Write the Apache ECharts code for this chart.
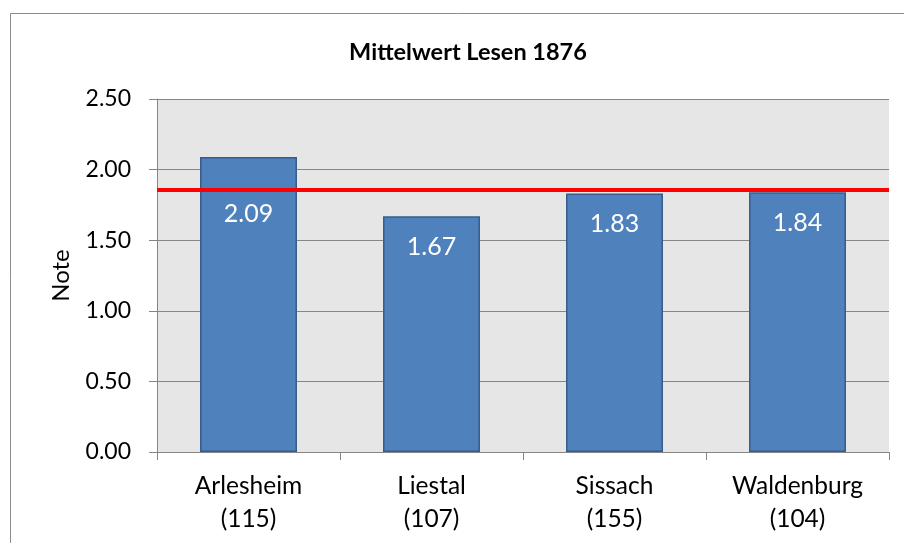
<!DOCTYPE html>
<html>
<head>
<meta charset="utf-8">
<script src="https://cdn.jsdelivr.net/npm/echarts@6/dist/echarts.min.js"></script>
<style>html,body{margin:0;padding:0;background:#fff;}#c{width:904px;height:543px;}</style>
</head>
<body>
<div id="c"></div>
<script>
const categories = ['Arlesheim\n(115)', 'Liestal\n(107)', 'Sissach\n(155)', 'Waldenburg\n(104)'];
const values = [2.09, 1.67, 1.83, 1.84];
const meanLine = [1.86];
const yTicks = [0, 0.5, 1.0, 1.5, 2.0, 2.5];

const FONT = 'Lato, "Open Sans", sans-serif';
const chart = echarts.init(document.getElementById('c'), null, {renderer: 'canvas'});
const barData = values.map((v, i) => i === 0
  ? {value: v, label: {offset: [0, 27]}}
  : {value: v});

chart.setOption({
  animation: false,
  backgroundColor: '#fff',
  graphic: [{
    type: 'rect', z: -10,
    shape: {x: 10.5, y: 13.5, width: 1000, height: 1000},
    style: {fill: 'none', stroke: '#8c8c8c', lineWidth: 1}
  }],
  title: {
    text: 'Mittelwert Lesen 1876',
    left: 463, top: 35, textAlign: 'center',
    textStyle: {fontFamily: FONT, fontWeight: 'bold', fontSize: 23.5, color: '#000'}
  },
  grid: {left: 157, right: 15, top: 99, bottom: 91, show: true, backgroundColor: '#e6e6e6', borderWidth: 0},
  xAxis: {
    type: 'category', data: categories,
    axisLine: {lineStyle: {color: '#868686', width: 1}},
    axisTick: {show: true, length: 8, lineStyle: {color: '#868686'}},
    axisLabel: {fontFamily: FONT, fontSize: 24.5, color: '#000', lineHeight: 33, margin: 18}
  },
  yAxis: {
    type: 'value', min: yTicks[0], max: yTicks[yTicks.length - 1], interval: 0.5,
    name: 'Note', nameLocation: 'middle', nameGap: 84, nameRotate: 90,
    nameTextStyle: {fontFamily: FONT, fontSize: 24, color: '#000'},
    axisLine: {show: true, lineStyle: {color: '#868686'}},
    axisTick: {show: true, length: 8, lineStyle: {color: '#868686'}},
    splitLine: {lineStyle: {color: '#868686', width: 1}},
    axisLabel: {fontFamily: FONT, fontSize: 23, color: '#000', margin: 26,
      formatter: v => v.toFixed(2)}
  },
  series: [{
    type: 'bar', data: barData, barWidth: '53%',
    itemStyle: {color: '#4f81bd', borderColor: '#385d8a', borderWidth: 1.5},
    label: {show: true, position: 'insideTop', distance: 18, color: '#fff',
      fontFamily: FONT, fontSize: 25, formatter: p => p.value.toFixed(2)},
    markLine: {
      silent: true, symbol: 'none', label: {show: false},
      lineStyle: {color: '#ff0000', width: 4, type: 'solid'},
      data: [{yAxis: meanLine[0]}]
    }
  }]
});
</script>
</body>
</html>
